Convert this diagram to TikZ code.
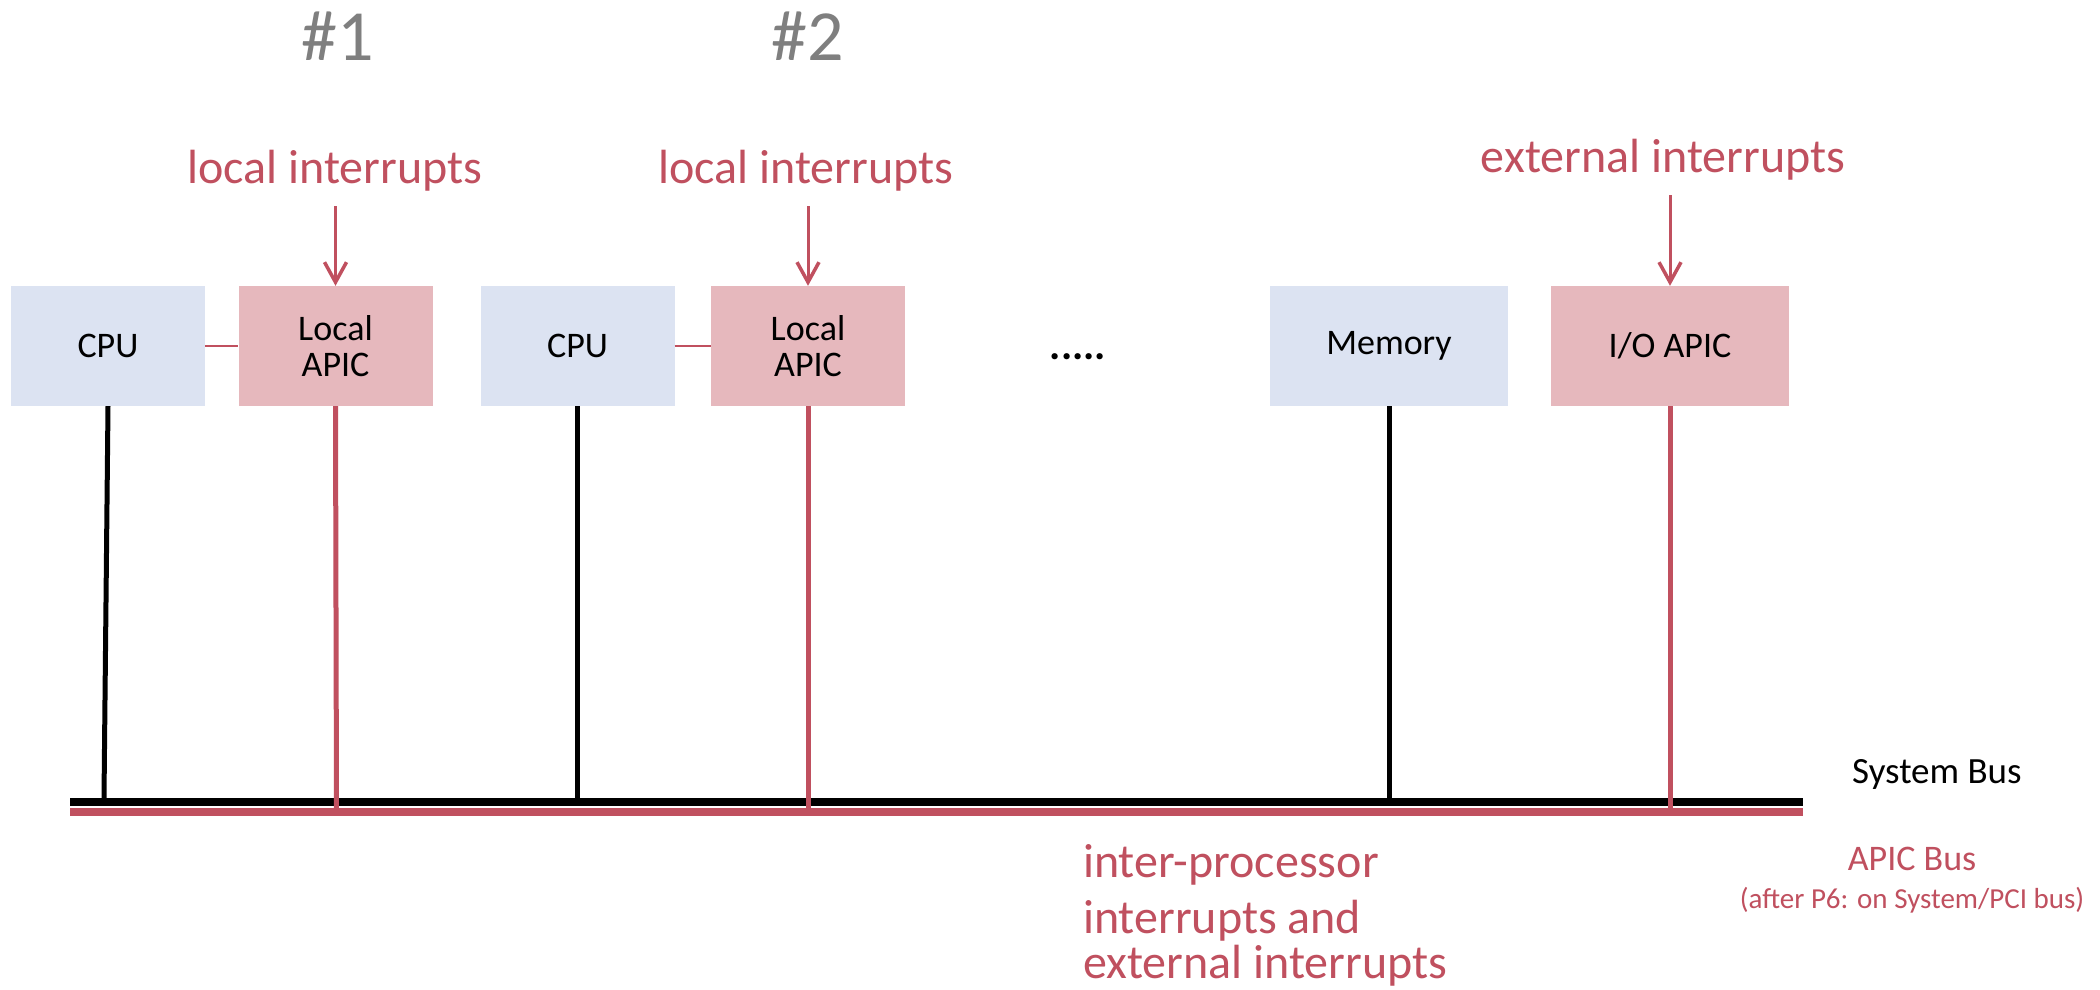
\documentclass[tikz,border=0pt]{standalone}
\usepackage{fontspec}
\setmainfont{Carlito}
\usetikzlibrary{arrows.meta}
\definecolor{boxblue}{RGB}{220,227,242}
\definecolor{boxpink}{RGB}{230,184,189}
\definecolor{apicred}{RGB}{192,80,95}
\definecolor{numgray}{RGB}{127,127,127}
\tikzset{
  box/.style={draw=none,inner sep=0pt,minimum height=120pt,align=center,
    font=\fontsize{36}{36}\selectfont},
  bluebox/.style={box,fill=boxblue},
  pinkbox/.style={box,fill=boxpink},
  bigbox/.style={minimum width=238pt},
  smallbox/.style={minimum width=194pt},
  numlabel/.style={inner sep=0pt,anchor=base,text=numgray,font=\fontsize{72}{72}\selectfont},
  intlabel/.style={inner sep=0pt,anchor=base,text=apicred,font=\fontsize{48}{48}\selectfont},
  intarrow/.style={draw=apicred,line width=3pt,-{Straight Barb[length=20pt,width=22pt,line width=3.5pt]}},
  blackline/.style={draw=black,line width=5pt},
  redline/.style={draw=apicred,line width=5pt},
  thinred/.style={draw=apicred,line width=2.5pt},
  busblack/.style={draw=black,line width=8pt},
  busred/.style={draw=apicred,line width=8pt},
}
\begin{document}
\begin{tikzpicture}[x=1pt,y=-1pt]
\useasboundingbox (0,0) rectangle (2100,989);
\fill[white] (0,0) rectangle (2100,989);

% numbers
\node[numlabel] (n1) at (338,60) {\#1};
\node[numlabel] (n2) at (808,60) {\#2};

% interrupt labels
\node[intlabel] (li1) at (335,183) {local interrupts};
\node[intlabel] (li2) at (806,183) {local interrupts};
\node[intlabel] (ei) at (1663,172) {external interrupts};

% boxes
\node[bluebox,smallbox] (cpu1) at (108,346) {CPU};
\node[pinkbox,smallbox] (apic1) at (335.5,346) {Local\\APIC};
\node[bluebox,smallbox] (cpu2) at (577.5,346) {CPU};
\node[pinkbox,smallbox] (apic2) at (808,346) {Local\\APIC};
\node[inner sep=0pt,anchor=base,font=\bfseries\fontsize{42}{42}\selectfont] (dots) at (1078,359) {.....};
\node[bluebox,bigbox] (mem) at (1389,346) {Memory};
\node[pinkbox,bigbox] (ioapic) at (1670,346) {I/O APIC};

% arrow starts
\coordinate (a1) at (335.5,206);
\coordinate (a2) at (808,206);
\coordinate (a3) at (1670,195);
\draw[intarrow] (a1) -- (apic1.north);
\draw[intarrow] (a2) -- (apic2.north);
\draw[intarrow] (a3) -- (ioapic.north);

% cpu - apic links
\draw[thinred] (cpu1.east) -- (apic1.west);
\draw[thinred] (cpu2.east) -- (apic2.west);

% buses
\coordinate (sbl) at (70,802);
\coordinate (sbr) at (1803,802);
\coordinate (abl) at (70,812);
\coordinate (abr) at (1803,812);
\draw[busblack] (sbl) -- (sbr);
\draw[busred] (abl) -- (abr);

% drops to buses
\coordinate (c1b) at (104,798);
\draw[blackline] (cpu1.south) -- (c1b);
\coordinate (c2b) at (577.5,798);
\draw[blackline] (cpu2.south) -- (c2b);
\coordinate (mb) at (1389,798);
\draw[blackline] (mem.south) -- (mb);
\coordinate (ap1b) at (336.5,813);
\coordinate (ap2b) at (808,813);
\coordinate (iob) at (1670,813);
\draw[redline] (apic1.south) -- (ap1b);
\draw[redline] (apic2.south) -- (ap2b);
\draw[redline] (ioapic.south) -- (iob);

% bus labels
\node[inner sep=0pt,anchor=base west,font=\fontsize{37}{37}\selectfont] (sysbus) at (1852,783) {System Bus};
\node[inner sep=0pt,anchor=base,text=apicred,font=\fontsize{36}{36}\selectfont] (apicbus) at (1912,870) {APIC Bus};
\node[inner sep=0pt,anchor=base,text=apicred,font=\fontsize{29}{29}\selectfont] (after) at (1912,908) {(after P6: on System/PCI bus)};

% bottom text
\node[intlabel,anchor=base west] (ip1) at (1083,877) {inter-processor};
\node[intlabel,anchor=base west] (ip2) at (1083,933) {interrupts and};
\node[intlabel,anchor=base west] (ip3) at (1083,978) {external interrupts};
\end{tikzpicture}
\end{document}
